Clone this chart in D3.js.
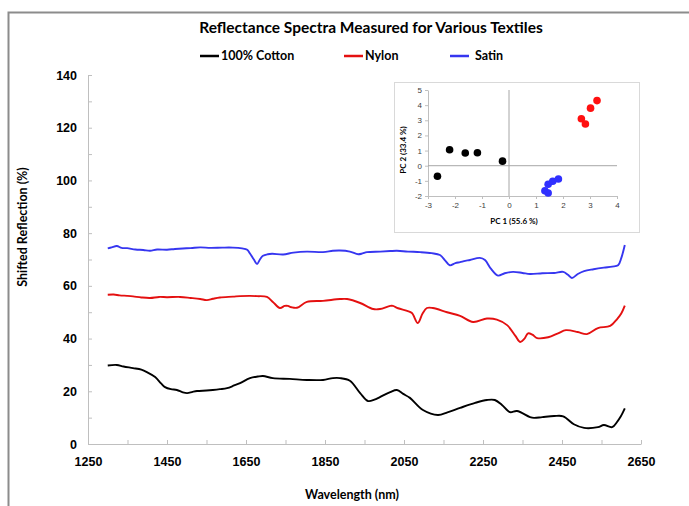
<!DOCTYPE html>
<html>
<head>
<meta charset="utf-8">
<script src="https://cdn.jsdelivr.net/npm/d3@7"></script>
<style>
  body { margin: 0; background: #fff; }
  svg { font-family: Lato, "Open Sans", sans-serif; }
  .axis text { font-weight: bold; fill: #000; }
  .inset-axis text { fill: #404040; }
</style>
</head>
<body>
<div id="chart"></div>
<script>
// spectra: [wavelength nm, shifted reflection %]
const cottonSpectrum = [
  [1300, 29.8], [1323, 30.0], [1340, 29.4], [1364, 28.8], [1385, 28.2], [1399, 27.3],
  [1420, 25.4], [1435, 23.0], [1445, 21.6], [1460, 20.8], [1475, 20.5], [1490, 19.6],
  [1501, 19.3], [1515, 19.8], [1526, 20.1], [1550, 20.3], [1566, 20.5], [1584, 20.8],
  [1602, 21.2], [1620, 22.2], [1635, 23.1], [1660, 25.0], [1680, 25.6], [1693, 25.8],
  [1718, 25.0], [1761, 24.7], [1804, 24.3], [1845, 24.3], [1870, 25.0], [1888, 25.0],
  [1913, 24.0], [1939, 19.3], [1959, 16.3], [1975, 16.8], [1989, 17.8], [2015, 19.7],
  [2032, 20.5], [2048, 19.0], [2065, 17.5], [2098, 12.9], [2136, 11.0], [2160, 12.0],
  [2192, 13.7], [2230, 15.6], [2260, 16.7], [2280, 16.7], [2298, 14.8], [2318, 12.1],
  [2336, 12.5], [2369, 10.2], [2379, 9.9], [2400, 10.2], [2430, 10.6], [2453, 10.5],
  [2480, 7.5], [2506, 6.1], [2541, 6.4], [2556, 7.2], [2577, 6.4], [2590, 8.5],
  [2599, 10.5], [2609, 13.5]
];
const nylonSpectrum = [
  [1300, 56.6], [1315, 56.7], [1330, 56.4], [1349, 56.2], [1364, 56.0], [1385, 55.6],
  [1407, 55.4], [1430, 55.8], [1450, 55.7], [1483, 55.8], [1510, 55.4], [1534, 55.0],
  [1551, 54.6], [1566, 55.1], [1584, 55.6], [1617, 55.9], [1635, 56.1], [1660, 56.2],
  [1678, 56.1], [1703, 55.8], [1718, 53.9], [1736, 51.6], [1748, 52.4], [1756, 52.4],
  [1765, 51.9], [1779, 51.7], [1804, 53.9], [1845, 54.3], [1888, 55.0], [1906, 55.0],
  [1939, 53.5], [1972, 51.2], [1989, 51.2], [2015, 52.4], [2022, 52.4], [2035, 51.5],
  [2058, 50.5], [2070, 49.7], [2085, 45.9], [2097, 49.5], [2108, 51.6], [2123, 51.6],
  [2159, 50.0], [2192, 48.6], [2225, 46.3], [2260, 47.6], [2285, 47.2], [2311, 45.1],
  [2332, 41.0], [2344, 38.7], [2355, 40.0], [2364, 42.0], [2375, 41.5], [2387, 40.2],
  [2415, 40.5], [2440, 42.0], [2460, 43.2], [2490, 42.5], [2513, 41.7], [2541, 44.0],
  [2572, 44.8], [2590, 47.5], [2600, 49.5], [2609, 52.5]
];
const satinSpectrum = [
  [1300, 74.2], [1310, 74.6], [1323, 75.1], [1335, 74.4], [1349, 74.3], [1370, 73.8],
  [1390, 73.6], [1407, 73.3], [1425, 73.8], [1450, 73.7], [1470, 74.0], [1490, 74.2],
  [1510, 74.3], [1534, 74.6], [1560, 74.4], [1590, 74.5], [1617, 74.5], [1640, 74.2],
  [1653, 73.7], [1660, 72.3], [1670, 70.0], [1678, 68.3], [1686, 70.2], [1693, 71.4],
  [1705, 72.0], [1716, 72.2], [1744, 71.9], [1770, 72.6], [1804, 73.0], [1845, 72.8],
  [1870, 73.3], [1888, 73.4], [1913, 73.0], [1934, 72.0], [1945, 72.3], [1956, 72.8],
  [1990, 73.0], [2015, 73.2], [2032, 73.3], [2060, 73.0], [2091, 72.8], [2120, 72.4],
  [2141, 71.7], [2155, 69.5], [2166, 67.8], [2180, 68.6], [2192, 69.0], [2205, 69.5],
  [2217, 69.8], [2242, 70.6], [2255, 69.8], [2270, 66.5], [2288, 63.9], [2305, 64.8],
  [2326, 65.3], [2350, 64.9], [2369, 64.5], [2400, 64.8], [2430, 64.9], [2453, 65.3],
  [2465, 64.2], [2475, 63.0], [2490, 64.5], [2506, 65.6], [2530, 66.3], [2556, 66.9],
  [2577, 67.3], [2592, 67.8], [2600, 70.5], [2609, 75.5]
];

// PCA scores for the inset: [PC 1, PC 2]
const pcaCotton = [[-2.65, -0.7], [-2.2, 1.05], [-1.62, 0.84], [-1.17, 0.86], [-0.24, 0.3]];
const pcaNylon = [[2.68, 3.1], [2.83, 2.75], [3.02, 3.8], [3.26, 4.3]];
const pcaSatin = [[1.33, -1.65], [1.45, -1.8], [1.45, -1.22], [1.62, -1.03], [1.83, -0.88]];

const seriesNames = ["100% Cotton", "Nylon", "Satin"];
const xTickValues = d3.range(1250, 2651, 100);
const yTickValues = d3.range(0, 141, 10);
const insetXTicks = d3.range(-3, 5, 1);
const insetYTicks = d3.range(-2, 6, 1);

class SpectraChart {
  constructor(_config) {
    this.config = {
      parent: _config.parent,
      width: _config.width || 689,
      height: _config.height || 506,
      plot: { left: 88, right: 641, top: 75, bottom: 444 },
      inset: { x: 394, y: 82, w: 245, h: 150, left: 428, right: 617, top: 90, bottom: 196 },
      colors: ["#000000", "#e41010", "#3636f0"],
      dotColors: ["#000000", "#ff1010", "#3030ff"],
    };
    this.initVis();
  }

  initVis() {
    let vis = this;
    const p = vis.config.plot;

    vis.svg = d3.select(vis.config.parent)
      .append("svg")
      .attr("width", vis.config.width)
      .attr("height", vis.config.height);

    // chart area border
    vis.svg.append("rect")
      .attr("x", 8.5).attr("y", 12.5)
      .attr("width", 700).attr("height", 520)
      .attr("fill", "none")
      .attr("stroke", "#8c8c8c")
      .attr("stroke-width", 2);

    vis.xScale = d3.scaleLinear().domain([1250, 2650]).range([p.left, p.right]);
    vis.yScale = d3.scaleLinear().domain([0, 140]).range([p.bottom, p.top]);

    vis.title = vis.svg.append("text")
      .attr("x", 371).attr("y", 33)
      .attr("text-anchor", "middle")
      .style("font-size", "15.5px").style("font-weight", "bold")
      .text("Reflectance Spectra Measured for Various Textiles");

    vis.legend = vis.svg.append("g").attr("class", "legend");

    vis.xAxisG = vis.svg.append("g").attr("class", "axis")
      .attr("transform", `translate(0,${p.bottom})`);
    vis.yAxisG = vis.svg.append("g").attr("class", "axis")
      .attr("transform", `translate(${p.left},0)`);

    vis.svg.append("text")
      .attr("x", 352).attr("y", 499)
      .attr("text-anchor", "middle")
      .style("font-size", "12.5px").style("font-weight", "bold")
      .text("Wavelength (nm)");

    vis.svg.append("text")
      .attr("transform", "translate(27,227) rotate(-90)")
      .attr("text-anchor", "middle")
      .style("font-size", "12.5px").style("font-weight", "bold")
      .text("Shifted Reflection (%)");

    vis.lineGroup = vis.svg.append("g").attr("class", "spectra");
    vis.insetG = vis.svg.append("g").attr("class", "inset");

    this.updateVis();
  }

  updateVis() {
    const vis = this;
    const colors = vis.config.colors;

    const xAxis = d3.axisBottom(vis.xScale)
      .tickValues(xTickValues)
      .tickSizeInner(-4).tickSizeOuter(0)
      .tickPadding(13)
      .tickFormat((d) => ((d - 1250) % 200 === 0 ? d : ""));
    const yAxis = d3.axisLeft(vis.yScale)
      .tickValues(yTickValues)
      .tickSizeInner(-4).tickSizeOuter(0)
      .tickPadding(11)
      .tickFormat((d) => (d % 20 === 0 ? d : ""));

    vis.xAxisG.call(xAxis);
    vis.yAxisG.call(yAxis);
    [vis.xAxisG, vis.yAxisG].forEach((g) => {
      g.selectAll("path, line").attr("stroke", "#bfbfbf");
      g.selectAll("text").style("font-size", "12.5px");
    });

    const line = d3.line()
      .x((d) => vis.xScale(d[0]))
      .y((d) => vis.yScale(d[1]))
      .curve(d3.curveCatmullRom.alpha(0.5));

    vis.lineGroup.selectAll("path")
      .data([cottonSpectrum, nylonSpectrum, satinSpectrum])
      .join("path")
      .attr("d", line)
      .attr("fill", "none")
      .attr("stroke", (d, i) => colors[i])
      .attr("stroke-width", 1.9)
      .attr("stroke-linejoin", "round");

    // legend
    const legendX = [200, 344, 450];
    const item = vis.legend.selectAll("g")
      .data(seriesNames)
      .join("g")
      .attr("transform", (d, i) => `translate(${legendX[i]},56)`);
    item.append("line")
      .attr("x1", 0).attr("x2", 19)
      .attr("stroke", (d, i) => colors[i])
      .attr("stroke-width", 2.5);
    item.append("text")
      .attr("x", (d, i) => (i === 2 ? 25 : 21))
      .attr("dy", "0.35em")
      .style("font-size", "12.5px").style("font-weight", "bold")
      .text((d) => d);

    vis.drawInset();
  }

  drawInset() {
    const vis = this;
    const c = vis.config.inset;
    const g = vis.insetG;

    g.append("rect")
      .attr("x", c.x + 0.5).attr("y", c.y + 0.5)
      .attr("width", c.w).attr("height", c.h)
      .attr("fill", "#fff")
      .attr("stroke", "#d9d9d9");

    const xi = d3.scaleLinear().domain([-3, 4]).range([c.left, c.right]);
    const yi = d3.scaleLinear().domain([-2, 5]).range([c.bottom, c.top]);

    const xAxisI = g.append("g").attr("class", "inset-axis")
      .attr("transform", `translate(0,${c.bottom})`)
      .call(d3.axisBottom(xi).tickValues(insetXTicks).tickFormat((d) => String(d))
        .tickSizeInner(3).tickSizeOuter(0).tickPadding(3));
    const yAxisI = g.append("g").attr("class", "inset-axis")
      .attr("transform", `translate(${c.left},0)`)
      .call(d3.axisLeft(yi).tickValues(insetYTicks).tickFormat((d) => String(d))
        .tickSizeInner(3).tickSizeOuter(0).tickPadding(3));
    [xAxisI, yAxisI].forEach((a) => {
      a.selectAll("path, line").attr("stroke", "#bfbfbf");
      a.selectAll("text").style("font-size", "8px").style("font-weight", "normal");
    });

    // zero lines
    g.append("line")
      .attr("x1", xi(0)).attr("x2", xi(0))
      .attr("y1", yi(5)).attr("y2", yi(-2))
      .attr("stroke", "#a6a6a6");
    g.append("line")
      .attr("x1", xi(-3)).attr("x2", xi(4))
      .attr("y1", yi(0)).attr("y2", yi(0))
      .attr("stroke", "#a6a6a6");

    [pcaCotton, pcaNylon, pcaSatin].forEach((pts, i) => {
      g.append("g").selectAll("circle")
        .data(pts)
        .join("circle")
        .attr("cx", (d) => xi(d[0]))
        .attr("cy", (d) => yi(d[1]))
        .attr("r", 3.8)
        .attr("fill", vis.config.dotColors[i]);
    });

    g.append("text")
      .attr("x", 514).attr("y", 224)
      .attr("text-anchor", "middle")
      .style("font-size", "8px").style("font-weight", "bold")
      .text("PC 1 (55.6 %)");
    g.append("text")
      .attr("transform", "translate(406,150) rotate(-90)")
      .attr("text-anchor", "middle")
      .style("font-size", "8px").style("font-weight", "bold")
      .text("PC 2 (33.4 %)");
  }
}

const chart = new SpectraChart({ parent: "#chart", width: 689, height: 506 });
</script>
</body>
</html>
